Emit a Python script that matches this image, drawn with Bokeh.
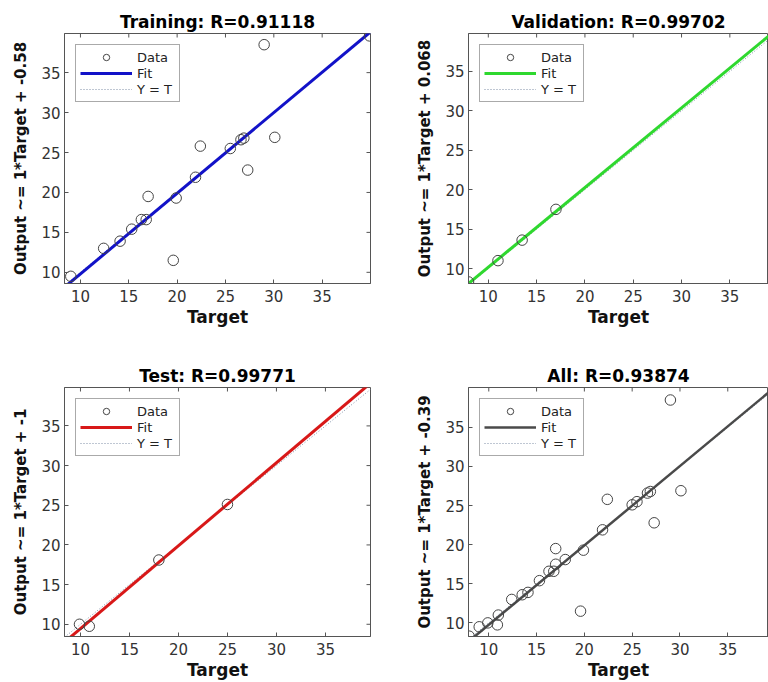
import math
from bokeh.plotting import figure
from bokeh.layouts import gridplot
from bokeh.models import FixedTicker, Range1d, Legend, LegendItem
from bokeh.embed import file_html
from bokeh.resources import INLINE

# ---------------- data ----------------
train_target = [9.0, 12.4, 14.1, 15.3, 16.3, 16.8, 17.0, 19.9, 19.6, 21.9, 22.4, 25.5, 26.6, 26.9, 27.3, 29.0, 30.1, 39.9]
train_output = [9.5, 13.0, 13.9, 15.4, 16.6, 16.6, 19.5, 19.3, 11.5, 21.9, 25.8, 25.5, 26.6, 26.8, 22.8, 38.5, 26.9, 39.6]
val_target = [7.95, 11.0, 13.5, 17.0]
val_output = [8.3, 11.0, 13.6, 17.5]
test_target = [9.9, 10.9, 18.0, 25.0]
test_output = [10.0, 9.75, 18.1, 25.1]
all_target = train_target + val_target + test_target
all_output = train_output + val_output + test_output

panel_names = ["Training", "Validation", "Test", "All"]
r_values = ["0.91118", "0.99702", "0.99771", "0.93874"]
intercept_labels = ["-0.58", "0.068", "-1", "-0.39"]
fit_slopes = [1.01, 1.01, 1.045, 1.015]
fit_intercepts = [-0.3, 0.068, -1.0, -0.39]
tick_values = [10, 15, 20, 25, 30, 35]

x_lo = [8.35, 7.95, 8.37, 7.88]
x_hi = [40.0, 39.0, 39.6, 39.26]
y_lo = [8.6, 8.1, 8.46, 8.26]
y_hi = [39.9, 39.8, 39.84, 40.1]

fit_colors = ["#1212c8", "#2fd82f", "#d81818", "#4a4a4a"]
fit_widths = [3, 3, 3, 2.5]

FONT = "DejaVu Sans"
FRAME = "#555555"


def make_panel(i, tgt, out, width, height, borders, right_ticks):
    p = figure(width=width, height=height,
               x_range=Range1d(x_lo[i], x_hi[i]), y_range=Range1d(y_lo[i], y_hi[i]),
               output_backend="svg", toolbar_location=None,
               min_border_left=borders[0], min_border_right=borders[1],
               min_border_top=borders[2], min_border_bottom=borders[3],
               title=f"{panel_names[i]}: R={r_values[i]}")
    p.background_fill_color = "white"
    p.border_fill_color = "white"
    p.outline_line_color = FRAME
    p.outline_line_width = 1
    p.xgrid.visible = False
    p.ygrid.visible = False

    p.title.align = "center"
    p.title.text_font = FONT
    p.title.text_font_style = "bold"
    p.title.text_font_size = "17px"
    p.title.text_color = "#000000"
    p.title.standoff = 3

    xa = p.below[0]
    ya = p.left[0]
    for ax in (xa, ya):
        ax.ticker = FixedTicker(ticks=tick_values)
        ax.major_tick_in = 4
        ax.major_tick_out = 0
        ax.minor_tick_line_color = None
        ax.axis_line_color = FRAME
        ax.major_tick_line_color = FRAME
        ax.major_label_text_font = FONT
        ax.major_label_text_font_size = "15px"
        ax.major_label_text_color = "#333333"
        ax.axis_label_text_font = FONT
        ax.axis_label_text_font_style = "bold"
        ax.axis_label_text_color = "#111111"
    xa.axis_label_text_font_size = "17px"
    ya.axis_label_text_font_size = "15px"
    xa.axis_label = "Target"
    ya.axis_label = f"Output ~= 1*Target + {intercept_labels[i]}"
    xa.major_label_standoff = 6
    xa.axis_label_standoff = 2
    ya.major_label_standoff = 4
    ya.axis_label_standoff = 8

    # inward tick marks on the top (and right) edges of the box
    n = len(tick_values)
    p.scatter(tick_values, [y_hi[i]] * n, marker="dash", size=8, angle=math.pi / 2,
              line_color=FRAME, line_width=1)
    if right_ticks:
        p.scatter([x_hi[i]] * n, tick_values, marker="dash", size=8,
                  line_color=FRAME, line_width=1)

    lo = min(x_lo[i], y_lo[i])
    hi = max(x_hi[i], y_hi[i])
    ident = p.line([lo, hi], [lo, hi], line_color="#7f8fa6", line_width=1, line_dash="1 2")
    fx = [lo, hi]
    fy = [fit_slopes[i] * v + fit_intercepts[i] for v in fx]
    fit = p.line(fx, fy, line_color=fit_colors[i], line_width=fit_widths[i])
    pts = p.scatter(tgt, out, marker="circle", size=10.5, fill_color=None,
                    line_color="#444444", line_width=1)

    legend = Legend(items=[LegendItem(label="Data", renderers=[pts]),
                           LegendItem(label="Fit", renderers=[fit]),
                           LegendItem(label="Y = T", renderers=[ident])],
                    location="top_left", margin=11, padding=4, spacing=0,
                    glyph_width=52, glyph_height=16, label_height=16, label_width=38,
                    label_standoff=5, label_text_font=FONT, label_text_font_size="13px",
                    label_text_color="#222222", border_line_color=FRAME, border_line_width=1,
                    background_fill_color="white", background_fill_alpha=1.0)
    p.add_layout(legend, "center")
    return p


p1 = make_panel(0, train_target, train_output, 384, 340, (64, 14, 33, 57), True)
p2 = make_panel(1, val_target, val_output, 384, 340, (84, 0, 33, 57), False)
p3 = make_panel(2, test_target, test_output, 384, 342, (63, 14, 47, 44), True)
p4 = make_panel(3, all_target, all_output, 384, 342, (84, 0, 47, 44), False)

grid = gridplot([[p1, p2], [p3, p4]], toolbar_location=None)

open("out.html", "w").write(file_html(grid, INLINE))
